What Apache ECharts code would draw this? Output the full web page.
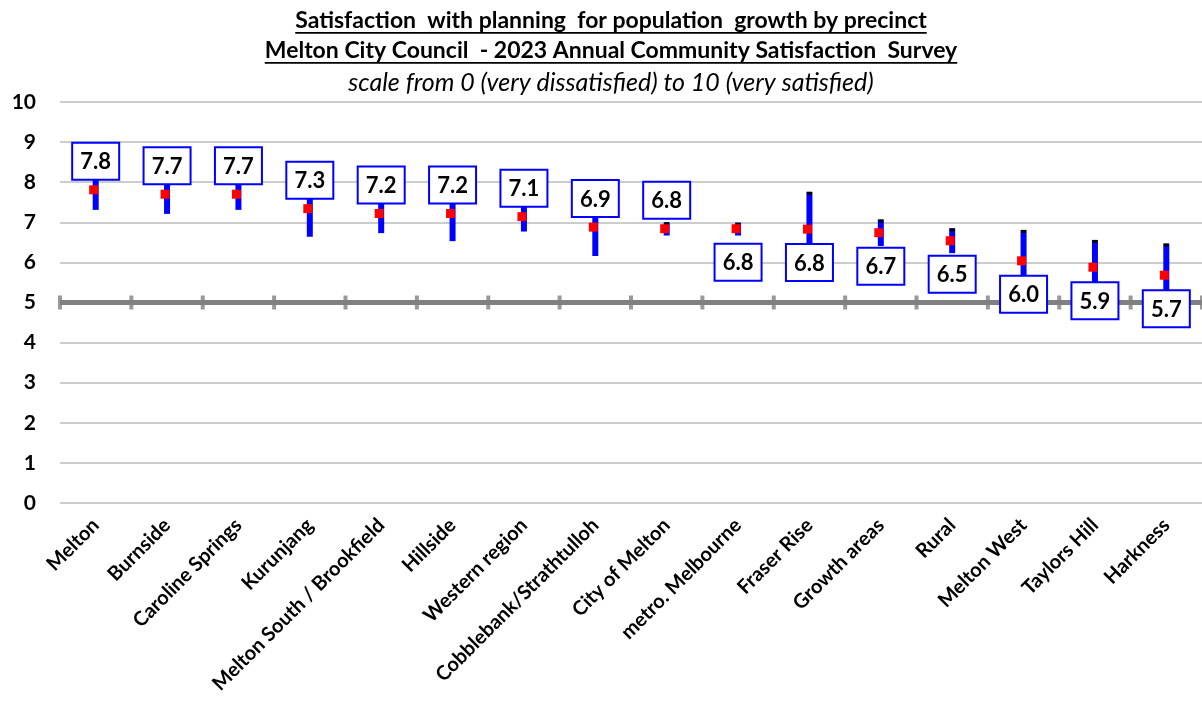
<!DOCTYPE html>
<html>
<head>
<meta charset="utf-8">
<title>Satisfaction with planning for population growth by precinct</title>
<script src="https://cdn.jsdelivr.net/npm/echarts@6/dist/echarts.min.js"></script>
<style>
  html, body { margin: 0; padding: 0; background: #ffffff; }
  #chart { width: 1202px; height: 708px; }
</style>
</head>
<body>
<div id="chart"></div>
<script>
// Precincts in display order
const categories = [
  'Melton', 'Burnside', 'Caroline Springs', 'Kurunjang', 'Melton South / Brookfield',
  'Hillside', 'Western region', 'Cobblebank/Strathtulloh', 'City of Melton',
  'metro. Melbourne', 'Fraser Rise', 'Growth areas', 'Rural', 'Melton West',
  'Taylors Hill', 'Harkness'
];
// Mean satisfaction score (0-10)
const meanScores = [7.81, 7.70, 7.70, 7.34, 7.22, 7.22, 7.14, 6.88, 6.84, 6.84, 6.83, 6.74, 6.54, 6.04, 5.88, 5.68];
// 95% confidence interval bounds
const lowerBounds = [7.31, 7.21, 7.31, 6.64, 6.73, 6.53, 6.77, 6.16, 6.67, 6.67, 5.90, 6.41, 6.23, 5.30, 5.20, 4.90];
const upperBounds = [8.30, 8.19, 8.09, 8.04, 7.71, 7.91, 7.51, 7.60, 7.00, 6.99, 7.76, 7.07, 6.85, 6.81, 6.56, 6.47];
// Value axis ticks and the mid-point reference
const yTicks = [0, 1, 2, 3, 4, 5, 6, 7, 8, 9, 10];
const referenceScore = 5;
// Value boxes sit above the mean for the first precincts, below it from here on
const firstBoxBelow = 9;

const FONT = 'Lato, "Open Sans", "DejaVu Sans", sans-serif';

const chart = echarts.init(document.getElementById('chart'), null, { renderer: 'canvas' });

// Measure text for the underlined title lines
const measureCtx = document.createElement('canvas').getContext('2d');
function textWidth(str, font) {
  measureCtx.font = font;
  return measureCtx.measureText(str).width;
}

const titleLines = [
  { text: 'Satisfaction  with planning  for population  growth by precinct', y: 21, font: 'bold 23px ' + FONT, underline: true },
  { text: 'Melton City Council  - 2023 Annual Community Satisfaction  Survey', y: 51, font: 'bold 23px ' + FONT, underline: true },
  { text: 'scale from 0 (very dissatisfied) to 10 (very satisfied)', y: 83, font: 'italic 25px ' + FONT, underline: false }
];
const titleCenter = 611;
const graphics = [];
titleLines.forEach(function (ln) {
  graphics.push({
    type: 'text',
    x: titleCenter, y: ln.y,
    style: {
      text: ln.text, fill: '#000000', font: ln.font,
      align: 'center', verticalAlign: 'middle'
    },
    z: 10
  });
  if (ln.underline) {
    const w = textWidth(ln.text, ln.font);
    graphics.push({
      type: 'rect',
      shape: { x: titleCenter - w / 2, y: ln.y + 11, width: w, height: 1.8 },
      style: { fill: '#000000' },
      z: 10
    });
  }
});

const intervalData = categories.map(function (c, i) {
  return [i, lowerBounds[i], upperBounds[i], meanScores[i], i >= firstBoxBelow ? 1 : 0];
});
const boundaryPoints = categories.map(function (c, i) { return [i, referenceScore]; })
  .concat([[categories.length, referenceScore]]);

function renderInterval(params, api) {
  const i = api.value(0);
  const lo = api.coord([i, api.value(1)]);
  const hi = api.coord([i, api.value(2)]);
  const mean = api.coord([i, api.value(3)]);
  const below = api.value(4) === 1;
  const x = mean[0];
  const boxW = 47, boxH = 37;
  const boxY = below ? mean[1] + 15 : mean[1] - 10 - boxH;
  const label = api.value(3).toFixed(1);
  return {
    type: 'group',
    children: [
      { type: 'rect', shape: { x: x - 3, y: hi[1], width: 6, height: lo[1] - hi[1] }, style: { fill: '#0000FF' } },
      { type: 'rect', shape: { x: x - 2.5, y: hi[1], width: 5, height: 3 }, style: { fill: '#000000' } },
      { type: 'rect', shape: { x: x - 6.5, y: mean[1] - 4.5, width: 9, height: 9 }, style: { fill: '#FF0000' } },
      { type: 'rect', shape: { x: x - boxW / 2, y: boxY, width: boxW, height: boxH }, style: { fill: '#FFFFFF', stroke: '#0000FF', lineWidth: 2 } },
      { type: 'text', x: x, y: boxY + boxH / 2 + 1, style: { text: label, font: 'bold 22px ' + FONT, fill: '#000000', align: 'center', verticalAlign: 'middle' } }
    ]
  };
}

const option = {
  animation: false,
  backgroundColor: '#ffffff',
  graphic: graphics,
  grid: { left: 60, right: 0, top: 102, bottom: 205, containLabel: false },
  xAxis: [
    {
      type: 'category',
      data: categories,
      boundaryGap: true,
      axisLine: { show: false },
      axisTick: { show: false },
      axisLabel: {
        interval: 0, rotate: 45, margin: 19,
        color: '#000000', fontFamily: FONT, fontWeight: 'bold', fontSize: 20
      }
    },
    { type: 'value', min: 0, max: categories.length, show: false }
  ],
  yAxis: {
    type: 'value',
    min: yTicks[0], max: yTicks[yTicks.length - 1], interval: 1,
    axisLine: { show: false },
    axisTick: { show: false },
    axisLabel: { margin: 24, color: '#000000', fontFamily: FONT, fontWeight: 'bold', fontSize: 21 },
    splitLine: { show: true, lineStyle: { color: '#BBBBBB', width: 1.5 } }
  },
  series: [
    {
      type: 'line',
      xAxisIndex: 1,
      data: [[0, referenceScore], [categories.length, referenceScore]],
      symbol: 'none',
      lineStyle: { color: '#808080', width: 5 },
      silent: true, z: 2
    },
    {
      type: 'scatter',
      xAxisIndex: 1,
      data: boundaryPoints,
      symbol: 'rect',
      symbolSize: [4, 14],
      itemStyle: { color: '#808080' },
      silent: true, z: 3
    },
    {
      type: 'custom',
      xAxisIndex: 0,
      data: intervalData,
      renderItem: renderInterval,
      silent: true, z: 5
    }
  ]
};

chart.setOption(option);
</script>
</body>
</html>
